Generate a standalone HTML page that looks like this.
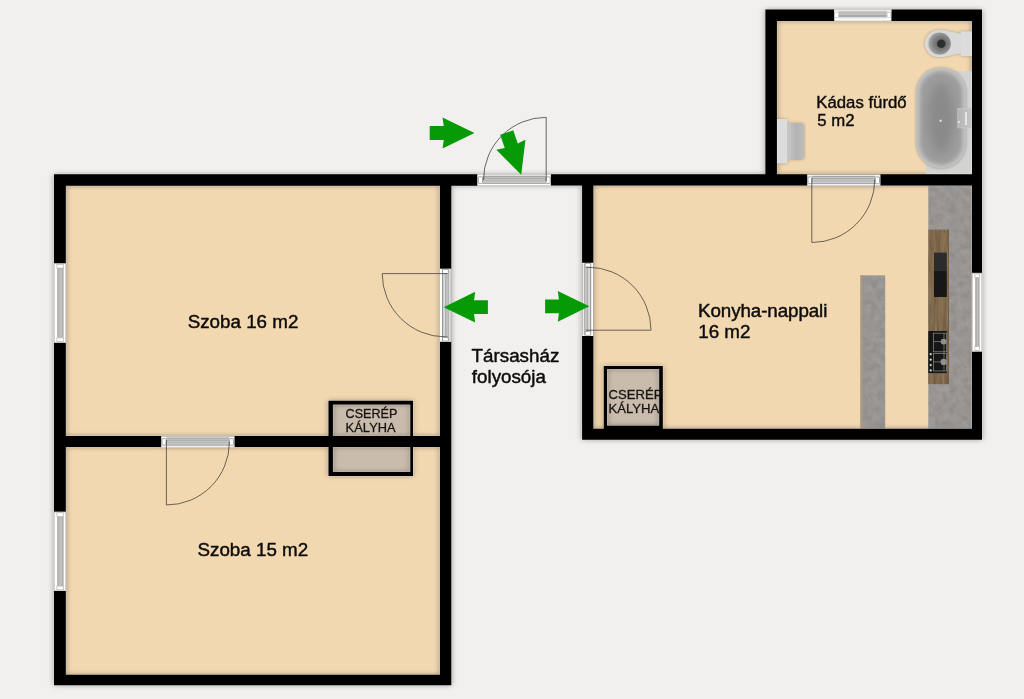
<!DOCTYPE html>
<html lang="hu">
<head>
<meta charset="utf-8">
<title>Alaprajz</title>
<style>
html,body{margin:0;padding:0;background:#f1f0ee;overflow:hidden;}
body{width:1024px;height:699px;position:relative;}
svg{position:absolute;left:0;top:0;display:block;}
text{font-family:"Liberation Sans",sans-serif;fill:#0c0c0c;stroke:#0c0c0c;stroke-width:0.45px;stroke-linejoin:round;}
.lbl{font-size:18.8px;}
.lbl2{font-size:16.75px;stroke-width:0.4px;}
.st{font-size:12.8px;fill:#161412;stroke:#161412;stroke-width:0.3px;}
.arc{fill:none;stroke:#46423c;stroke-width:0.8;}
</style>
</head>
<body>
<svg width="1024" height="699" viewBox="0 0 1024 699">
<defs>
  <filter id="sh" x="-3%" y="-3%" width="106%" height="106%" color-interpolation-filters="sRGB">
    <feGaussianBlur in="SourceAlpha" stdDeviation="3.3 2.8" result="b"/>
    <feOffset in="b" dx="0.25" dy="0.15" result="o"/>
    <feComponentTransfer in="o" result="s"><feFuncA type="linear" slope="0.38"/></feComponentTransfer>
  </filter>
  <filter id="soft" x="-20%" y="-20%" width="140%" height="140%" color-interpolation-filters="sRGB">
    <feGaussianBlur in="SourceAlpha" stdDeviation="1.6" result="b"/>
    <feComponentTransfer in="b" result="s"><feFuncA type="linear" slope="0.3"/></feComponentTransfer>
    <feMerge><feMergeNode in="s"/><feMergeNode in="SourceGraphic"/></feMerge>
  </filter>
  <filter id="conc" x="0" y="0" width="100%" height="100%" color-interpolation-filters="sRGB">
    <feTurbulence type="fractalNoise" baseFrequency="0.14" numOctaves="3" seed="7" result="n"/>
    <feColorMatrix in="n" type="matrix" values="0 0 0 0 0  0 0 0 0 0  0 0 0 0 0  1.6 0 0 0 -0.62" result="d"/>
    <feComposite in="d" in2="SourceAlpha" operator="in"/>
  </filter>
  <filter id="concl" x="0" y="0" width="100%" height="100%" color-interpolation-filters="sRGB">
    <feTurbulence type="fractalNoise" baseFrequency="0.14" numOctaves="3" seed="21" result="n"/>
    <feColorMatrix in="n" type="matrix" values="0 0 0 0 1  0 0 0 0 1  0 0 0 0 1  1.6 0 0 0 -0.62" result="d"/>
    <feComposite in="d" in2="SourceAlpha" operator="in"/>
  </filter>
  <filter id="grain" x="0" y="0" width="100%" height="100%" color-interpolation-filters="sRGB">
    <feTurbulence type="fractalNoise" baseFrequency="0.45 0.035" numOctaves="2" seed="4" result="n"/>
    <feColorMatrix in="n" type="matrix" values="0 0 0 0 0.2  0 0 0 0 0.13  0 0 0 0 0.05  2.2 0 0 0 -0.85" result="d"/>
    <feComposite in="d" in2="SourceAlpha" operator="in"/>
  </filter>
  <filter id="grainl" x="0" y="0" width="100%" height="100%" color-interpolation-filters="sRGB">
    <feTurbulence type="fractalNoise" baseFrequency="0.4 0.03" numOctaves="2" seed="11" result="n"/>
    <feColorMatrix in="n" type="matrix" values="0 0 0 0 0.72  0 0 0 0 0.62  0 0 0 0 0.46  2.2 0 0 0 -0.9" result="d"/>
    <feComposite in="d" in2="SourceAlpha" operator="in"/>
  </filter>
  <filter id="blur1" x="-30%" y="-30%" width="160%" height="160%"><feGaussianBlur stdDeviation="0.7"/></filter>
  <filter id="blur2" x="-20%" y="-20%" width="140%" height="140%"><feGaussianBlur stdDeviation="2.2"/></filter>
  <filter id="blur4" x="-50%" y="-50%" width="200%" height="200%"><feGaussianBlur stdDeviation="5"/></filter>
  <radialGradient id="tub" cx="0.5" cy="0.5" r="0.5">
    <stop offset="0" stop-color="#8b8b8b"/><stop offset="0.6" stop-color="#969696"/><stop offset="0.85" stop-color="#a9a9a9"/><stop offset="1" stop-color="#cfcfcf"/>
  </radialGradient>
  <linearGradient id="tubx" x1="0" y1="0" x2="1" y2="0">
    <stop offset="0" stop-color="#d4d4d4"/><stop offset="0.14" stop-color="#a4a4a4"/><stop offset="0.5" stop-color="#8d8d8d"/><stop offset="0.86" stop-color="#a4a4a4"/><stop offset="1" stop-color="#d0d0d0"/>
  </linearGradient>
  <radialGradient id="bowl" cx="0.58" cy="0.5" r="0.55">
    <stop offset="0" stop-color="#5c5c5c"/><stop offset="0.55" stop-color="#7c7c7c"/><stop offset="0.9" stop-color="#9c9c9c"/><stop offset="1" stop-color="#c0c0c0"/>
  </radialGradient>
  <linearGradient id="basin" x1="0" y1="0" x2="1" y2="0">
    <stop offset="0" stop-color="#c9c9c9"/><stop offset="0.5" stop-color="#b3b3b3"/><stop offset="1" stop-color="#bdbdbd"/>
  </linearGradient>
</defs>

<!-- floors -->
<g id="floors" fill="#f2d8b1">
  <rect x="60" y="180" width="386" height="500"/>
  <rect x="588" y="180" width="389" height="255"/>
  <rect x="771" y="15" width="206" height="170"/>
</g>

<g fill="#cabcad"><rect x="332.4" y="404.1" width="78.40" height="32.50"/><rect x="332.4" y="446.6" width="78.40" height="25.80"/><rect x="606.5" y="368.6" width="53.20" height="57.60"/></g>

<!-- wall shadow -->
<path d="M54.0,174.2H477.5V185.75H54.0ZM54.0,174.2H65.8V685.15H54.0ZM54.0,674.7H451.3V685.15H54.0ZM440.0,174.2H451.3V685.15H440.0ZM54.0,436.1H451.3V447.1H54.0ZM551.0,174.2H982.0V185.5H551.0ZM582.1,174.2H593.3V439.7H582.1ZM582.1,428.8H982.0V439.7H582.1ZM972.0,9.4H982.0V439.7H972.0ZM765.4,9.4H982.0V20.9H765.4ZM765.4,9.4H776.9V185.5H765.4ZM328.5,400.8H413.0V475.9H328.5ZM603.8,366.0H662.8V432.0H603.8ZM332.9,404.6V436.1H410.3V404.6ZM332.9,447.1V471.9H410.3V447.1ZM607.0,369.1V425.7H659.2V369.1ZM54.0,263.4H66.0V342.8H54.0ZM54.0,511.8H66.0V591.0H54.0ZM972.0,272.9H982.0V351.6H972.0ZM834.2,9.5H891.4V20.9H834.2ZM477.5,174.4H551.0V185.6H477.5ZM807.2,174.5H880.3V185.9H807.2ZM161.2,436.2H234.4V447.4H161.2ZM440.0,268.7H451.3V341.8H440.0ZM582.1,262.8H593.3V336.0H582.1Z" fill="#000" filter="url(#sh)"/>

<!-- furniture -->
<g id="bath">
  <rect x="925.8" y="71.2" width="47" height="103.5" fill="#d3d3d2"/>
  <g filter="url(#soft)">
    <rect x="916.3" y="67.7" width="49.5" height="100.5" rx="24.7" ry="24.7" fill="#c6c6c6"/>
  </g>
  <rect x="919.6" y="71" width="42.9" height="93.9" rx="21.4" ry="21.4" fill="#9d9d9d" filter="url(#blur2)"/>
  <ellipse cx="941" cy="118" rx="13" ry="36" fill="#848484" opacity="0.75" filter="url(#blur4)"/>
  <rect x="957.8" y="108.3" width="14.2" height="19.6" fill="#bdbdbd" fill-opacity="0.75" stroke="#c9c9c9" stroke-width="0.7"/>
  <rect x="965" y="112" width="2" height="13" fill="#e6e6e6"/>
  <circle cx="940.6" cy="120.8" r="1.2" fill="#dedede"/>
  <circle cx="959" cy="122" r="1.2" fill="#dedede"/>
  <g filter="url(#soft)">
    <rect x="960.6" y="31.3" width="12" height="24.8" fill="#dcdcdc"/>
    <path d="M938.8,30 C948,30 955,33.4 961,33.4 V53.6 C955,53.6 948,57.2 938.8,57.2 A13.9,13.6 0 0 1 938.8,30 Z" fill="#dadada"/>
  </g>
  <ellipse cx="939.3" cy="43.6" rx="11.6" ry="11.2" fill="url(#bowl)"/>
  <circle cx="941.3" cy="43.7" r="4.3" fill="#2e2e2e" filter="url(#blur1)"/>
  <g filter="url(#soft)">
    <rect x="777" y="119" width="10.6" height="44.5" fill="#dcdcdd"/>
    <path d="M787.5,123.2H801.2A3,3 0 0 1 804.2,126.2V156.6A3,3 0 0 1 801.2,159.6H787.5Z" fill="url(#basin)"/>
  </g>
</g>
<g id="kitchen">
  <rect x="928.3" y="185" width="44" height="244" fill="#999693"/>
  <rect x="928.3" y="185" width="44" height="244" fill="#000" filter="url(#conc)" opacity="0.11"/>
  <rect x="928.3" y="185" width="44" height="244" fill="#000" filter="url(#concl)" opacity="0.09"/>
  <rect x="928.3" y="229.7" width="20.5" height="154.4" fill="#826c50"/>
  <rect x="928.3" y="229.7" width="20.5" height="154.4" fill="#000" filter="url(#grain)" opacity="0.3"/>
  <rect x="928.3" y="229.7" width="20.5" height="154.4" fill="#000" filter="url(#grainl)" opacity="0.3"/>
  <rect x="947.9" y="229.7" width="0.9" height="154.4" fill="#6d573c" opacity="0.8"/>
  <rect x="934" y="252.6" width="12.8" height="18.3" fill="#2c2c2c"/>
  <rect x="934" y="270.9" width="12.8" height="26.1" fill="#171717"/>
  <rect x="928.3" y="331" width="18.5" height="42.1" fill="#161616"/>
  <g fill="none" stroke="#8d8d8d" stroke-width="0.7">
    <rect x="933.4" y="333.2" width="13" height="18.6"/>
    <rect x="933.4" y="353.6" width="13" height="17.4"/>
    <path d="M933.4,341.6H946.4 M933.4,361.9H946.4 M944,333.2V371"/>
  </g>
  <circle cx="943.6" cy="341.6" r="2.9" fill="#8f8f8f"/>
  <circle cx="943.6" cy="361.9" r="3.1" fill="#8f8f8f"/>
  <g fill="#d8d8d8"><circle cx="930.7" cy="354.2" r="1.1"/><circle cx="930.7" cy="359.7" r="1.1"/><circle cx="930.7" cy="365.1" r="1.1"/><circle cx="930.7" cy="370.4" r="1.1"/></g>
  <rect x="860.5" y="275.3" width="24.7" height="154" fill="#999693"/>
  <rect x="860.5" y="275.3" width="24.7" height="154" fill="#000" filter="url(#conc)" opacity="0.11"/>
  <rect x="860.5" y="275.3" width="24.7" height="154" fill="#000" filter="url(#concl)" opacity="0.09"/>
  <rect x="860.5" y="275.3" width="2.2" height="154" fill="#a99883"/>
</g>

<!-- walls -->
<path d="M54.0,174.2H477.5V185.75H54.0ZM54.0,174.2H65.8V685.15H54.0ZM54.0,674.7H451.3V685.15H54.0ZM440.0,174.2H451.3V685.15H440.0ZM54.0,436.1H451.3V447.1H54.0ZM551.0,174.2H982.0V185.5H551.0ZM582.1,174.2H593.3V439.7H582.1ZM582.1,428.8H982.0V439.7H582.1ZM972.0,9.4H982.0V439.7H972.0ZM765.4,9.4H982.0V20.9H765.4ZM765.4,9.4H776.9V185.5H765.4ZM328.5,400.8H413.0V475.9H328.5ZM603.8,366.0H662.8V432.0H603.8ZM332.9,404.6V436.1H410.3V404.6ZM332.9,447.1V471.9H410.3V447.1ZM607.0,369.1V425.7H659.2V369.1Z" fill="none" stroke="#fff" stroke-opacity="0.22" stroke-width="1.5"/>
<path id="walls" d="M54.0,174.2H477.5V185.75H54.0ZM54.0,174.2H65.8V685.15H54.0ZM54.0,674.7H451.3V685.15H54.0ZM440.0,174.2H451.3V685.15H440.0ZM54.0,436.1H451.3V447.1H54.0ZM551.0,174.2H982.0V185.5H551.0ZM582.1,174.2H593.3V439.7H582.1ZM582.1,428.8H982.0V439.7H582.1ZM972.0,9.4H982.0V439.7H972.0ZM765.4,9.4H982.0V20.9H765.4ZM765.4,9.4H776.9V185.5H765.4ZM328.5,400.8H413.0V475.9H328.5ZM603.8,366.0H662.8V432.0H603.8ZM332.9,404.6V436.1H410.3V404.6ZM332.9,447.1V471.9H410.3V447.1ZM607.0,369.1V425.7H659.2V369.1Z" fill="#000"/>


<!-- openings -->
<g id="openings">
<!-- windows -->
<rect x="54.0" y="263.4" width="12.00" height="79.40" fill="#fff"/><rect x="57.60" y="268.00" width="5.70" height="69.70" fill="#bebebe"/><line y1="268.00" y2="337.70" x1="57.80" x2="57.80" stroke="#8e8e8e" stroke-width="0.7"/><line y1="268.00" y2="337.70" x1="63.10" x2="63.10" stroke="#9a9a9a" stroke-width="0.7"/><rect x="54.60" y="263.70" width="11.00" height="78.80" fill="none" stroke="#b4b4b4" stroke-width="0.6"/><rect x="56.90" y="264.40" width="6.60" height="3.7" fill="#fff" stroke="#a5a5a5" stroke-width="0.6"/><rect x="56.90" y="337.90" width="6.60" height="3.7" fill="#fff" stroke="#a5a5a5" stroke-width="0.6"/>
<rect x="54.0" y="511.8" width="12.00" height="79.20" fill="#fff"/><rect x="57.60" y="516.40" width="5.70" height="69.50" fill="#bebebe"/><line y1="516.40" y2="585.90" x1="57.80" x2="57.80" stroke="#8e8e8e" stroke-width="0.7"/><line y1="516.40" y2="585.90" x1="63.10" x2="63.10" stroke="#9a9a9a" stroke-width="0.7"/><rect x="54.60" y="512.10" width="11.00" height="78.60" fill="none" stroke="#b4b4b4" stroke-width="0.6"/><rect x="56.90" y="512.80" width="6.60" height="3.7" fill="#fff" stroke="#a5a5a5" stroke-width="0.6"/><rect x="56.90" y="586.10" width="6.60" height="3.7" fill="#fff" stroke="#a5a5a5" stroke-width="0.6"/>
<rect x="972.0" y="272.9" width="10.00" height="78.70" fill="#fff"/><rect x="975.60" y="277.50" width="3.70" height="69.00" fill="#bebebe"/><line y1="277.50" y2="346.50" x1="975.80" x2="975.80" stroke="#8e8e8e" stroke-width="0.7"/><line y1="277.50" y2="346.50" x1="979.10" x2="979.10" stroke="#9a9a9a" stroke-width="0.7"/><rect x="972.60" y="273.20" width="9.00" height="78.10" fill="none" stroke="#b4b4b4" stroke-width="0.6"/><rect x="974.90" y="273.90" width="4.60" height="3.7" fill="#fff" stroke="#a5a5a5" stroke-width="0.6"/><rect x="974.90" y="346.70" width="4.60" height="3.7" fill="#fff" stroke="#a5a5a5" stroke-width="0.6"/>
<rect x="834.2" y="9.5" width="57.20" height="11.40" fill="#fff"/><rect x="834.2" y="9.5" width="57.20" height="2.2" fill="#e9e9e9"/><rect x="838.60" y="11.60" width="48.20" height="4.4" fill="#c0c0c0"/><line x1="838.60" x2="886.80" y1="11.80" y2="11.80" stroke="#a6a6a6" stroke-width="0.6"/><line x1="838.60" x2="886.80" y1="16.20" y2="16.20" stroke="#666" stroke-width="0.8"/><line x1="838.60" x2="886.80" y1="17.90" y2="17.90" stroke="#a8a8a8" stroke-width="0.6"/><rect x="834.70" y="12.50" width="3.8" height="5.2" fill="#fff" stroke="#b0b0b0" stroke-width="0.5"/><rect x="887.10" y="12.50" width="3.8" height="5.2" fill="#fff" stroke="#b0b0b0" stroke-width="0.5"/>
<!-- doors -->
<rect x="477.5" y="174.4" width="73.50" height="11.20" fill="#fff"/><rect x="482.70" y="175.90" width="63.10" height="7.80" fill="#c6c6c6"/><line x1="482.70" x2="545.80" y1="176.20" y2="176.20" stroke="#858585" stroke-width="0.7"/><line x1="482.70" x2="545.80" y1="178.40" y2="178.40" stroke="#9c9c9c" stroke-width="0.7"/><line x1="482.70" x2="545.80" y1="180.50" y2="180.50" stroke="#acacac" stroke-width="0.7"/><line x1="482.70" x2="545.80" y1="183.40" y2="183.40" stroke="#969696" stroke-width="0.7"/><rect x="477.80" y="174.70" width="72.90" height="10.60" fill="none" stroke="#bdbdbd" stroke-width="0.6"/><rect x="478.30" y="176.80" width="4.2" height="6.60" rx="0.8" fill="#fff" stroke="#7d7d7d" stroke-width="0.7"/><rect x="546.00" y="176.80" width="4.2" height="6.60" rx="0.8" fill="#fff" stroke="#7d7d7d" stroke-width="0.7"/>
<rect x="807.2" y="174.5" width="73.10" height="11.40" fill="#fff"/><rect x="812.40" y="176.00" width="62.70" height="8.00" fill="#c6c6c6"/><line x1="812.40" x2="875.10" y1="176.30" y2="176.30" stroke="#858585" stroke-width="0.7"/><line x1="812.40" x2="875.10" y1="178.50" y2="178.50" stroke="#9c9c9c" stroke-width="0.7"/><line x1="812.40" x2="875.10" y1="180.60" y2="180.60" stroke="#acacac" stroke-width="0.7"/><line x1="812.40" x2="875.10" y1="183.70" y2="183.70" stroke="#969696" stroke-width="0.7"/><rect x="807.50" y="174.80" width="72.50" height="10.80" fill="none" stroke="#bdbdbd" stroke-width="0.6"/><rect x="808.00" y="176.90" width="4.2" height="6.80" rx="0.8" fill="#fff" stroke="#7d7d7d" stroke-width="0.7"/><rect x="875.30" y="176.90" width="4.2" height="6.80" rx="0.8" fill="#fff" stroke="#7d7d7d" stroke-width="0.7"/>
<rect x="161.2" y="436.2" width="73.20" height="11.20" fill="#fff"/><rect x="166.40" y="437.70" width="62.80" height="7.80" fill="#c6c6c6"/><line x1="166.40" x2="229.20" y1="438.00" y2="438.00" stroke="#858585" stroke-width="0.7"/><line x1="166.40" x2="229.20" y1="440.20" y2="440.20" stroke="#9c9c9c" stroke-width="0.7"/><line x1="166.40" x2="229.20" y1="442.30" y2="442.30" stroke="#acacac" stroke-width="0.7"/><line x1="166.40" x2="229.20" y1="445.20" y2="445.20" stroke="#969696" stroke-width="0.7"/><rect x="161.50" y="436.50" width="72.60" height="10.60" fill="none" stroke="#bdbdbd" stroke-width="0.6"/><rect x="162.00" y="438.60" width="4.2" height="6.60" rx="0.8" fill="#fff" stroke="#7d7d7d" stroke-width="0.7"/><rect x="229.40" y="438.60" width="4.2" height="6.60" rx="0.8" fill="#fff" stroke="#7d7d7d" stroke-width="0.7"/>
<rect x="440.0" y="268.7" width="11.30" height="73.10" fill="#fff"/><rect x="442.50" y="269.50" width="3.10" height="71.50" fill="#dadada"/><rect x="445.60" y="269.50" width="3.20" height="71.50" fill="#c2c2c2"/><rect x="448.80" y="269.50" width="2.50" height="71.50" fill="#ececec"/><line y1="269.50" y2="341.00" x1="442.60" x2="442.60" stroke="#666" stroke-width="0.7"/><line y1="269.50" y2="341.00" x1="445.60" x2="445.60" stroke="#8c8c8c" stroke-width="0.6"/><line y1="269.50" y2="341.00" x1="448.80" x2="448.80" stroke="#8c8c8c" stroke-width="0.6"/><line y1="269.50" y2="341.00" x1="450.90" x2="450.90" stroke="#a0a0a0" stroke-width="0.6"/><rect x="442.60" y="269.50" width="5.60" height="3.8" fill="#fff" stroke="#8c8c8c" stroke-width="0.6"/><rect x="442.60" y="337.20" width="5.60" height="3.8" fill="#fff" stroke="#8c8c8c" stroke-width="0.6"/>
<rect x="582.1" y="262.8" width="11.20" height="73.20" fill="#fff"/><rect x="587.70" y="263.60" width="3.10" height="71.60" fill="#dadada"/><rect x="584.50" y="263.60" width="3.20" height="71.60" fill="#c2c2c2"/><rect x="582.10" y="263.60" width="2.40" height="71.60" fill="#ececec"/><line y1="263.60" y2="335.20" x1="590.70" x2="590.70" stroke="#666" stroke-width="0.7"/><line y1="263.60" y2="335.20" x1="587.70" x2="587.70" stroke="#8c8c8c" stroke-width="0.6"/><line y1="263.60" y2="335.20" x1="584.50" x2="584.50" stroke="#8c8c8c" stroke-width="0.6"/><line y1="263.60" y2="335.20" x1="582.50" x2="582.50" stroke="#a0a0a0" stroke-width="0.6"/><rect x="585.10" y="263.60" width="5.60" height="3.8" fill="#fff" stroke="#8c8c8c" stroke-width="0.6"/><rect x="585.10" y="331.40" width="5.60" height="3.8" fill="#fff" stroke="#8c8c8c" stroke-width="0.6"/>
</g>

<!-- door swings -->
<g class="arc">
  <path d="M546.2,181 V117.3 A62.7,62.7 0 0 0 483.5,180"/>
  <path d="M447.5,273.6 H382.2 A63.3,63.3 0 0 0 445.5,336.9 H447.5"/>
  <path d="M166.4,440 V505 A63,63 0 0 0 229.4,442"/>
  <path d="M586,330.2 H651 A63,63 0 0 0 588,267.2 H586"/>
  <path d="M811.8,178 V242.5 A63,63 0 0 0 874.8,179.5"/>
</g>

<!-- arrows -->
<g fill="#069a06">
  <path d="M0,-6.9 H14.2 L13,-15.4 L45.3,0 L13,15.4 L14.2,6.9 H0 Z" transform="translate(429.7,133) scale(0.989,1)"/>
  <path d="M0,-6.9 H14.2 L13,-15.4 L45.3,0 L13,15.4 L14.2,6.9 H0 Z" transform="translate(506.7,132.6) rotate(71) scale(0.985,1)"/>
  <path d="M0,-6.9 H14.2 L13,-15.4 L45.3,0 L13,15.4 L14.2,6.9 H0 Z" transform="translate(487.9,307.2) rotate(180) scale(0.978,1)"/>
  <path d="M0,-6.9 H14.2 L13,-15.4 L45.3,0 L13,15.4 L14.2,6.9 H0 Z" transform="translate(545.1,306.3) scale(0.975,1)"/>
</g>

<!-- labels -->
<g opacity="0.999">
<text class="lbl" x="187.7" y="328.3">Szoba 16 m2</text>
<text class="lbl" x="197.5" y="555.9">Szoba 15 m2</text>
<text class="lbl" x="471.6" y="361.7">Társasház</text>
<text class="lbl" x="471.8" y="382.8">folyosója</text>
<text class="lbl" x="698.1" y="316.9" style="letter-spacing:-0.1px">Konyha-nappali</text>
<text class="lbl" x="698.2" y="337.7">16 m2</text>
<text class="lbl2" x="816.3" y="108">Kádas fürdő</text>
<text class="lbl2" x="817.3" y="126">5 m2</text>
<text class="st" x="345.6" y="418" style="font-size:12.6px">CSERÉP</text>
<text class="st" x="345.6" y="432" style="letter-spacing:0.1px">KÁLYHA</text>
<text class="st" x="608.6" y="398.5" style="font-size:13.1px">CSERÉP</text>
<text class="st" x="608.6" y="412.7" style="font-size:13.1px">KÁLYHA</text>
</g>
</svg>
</body>
</html>
